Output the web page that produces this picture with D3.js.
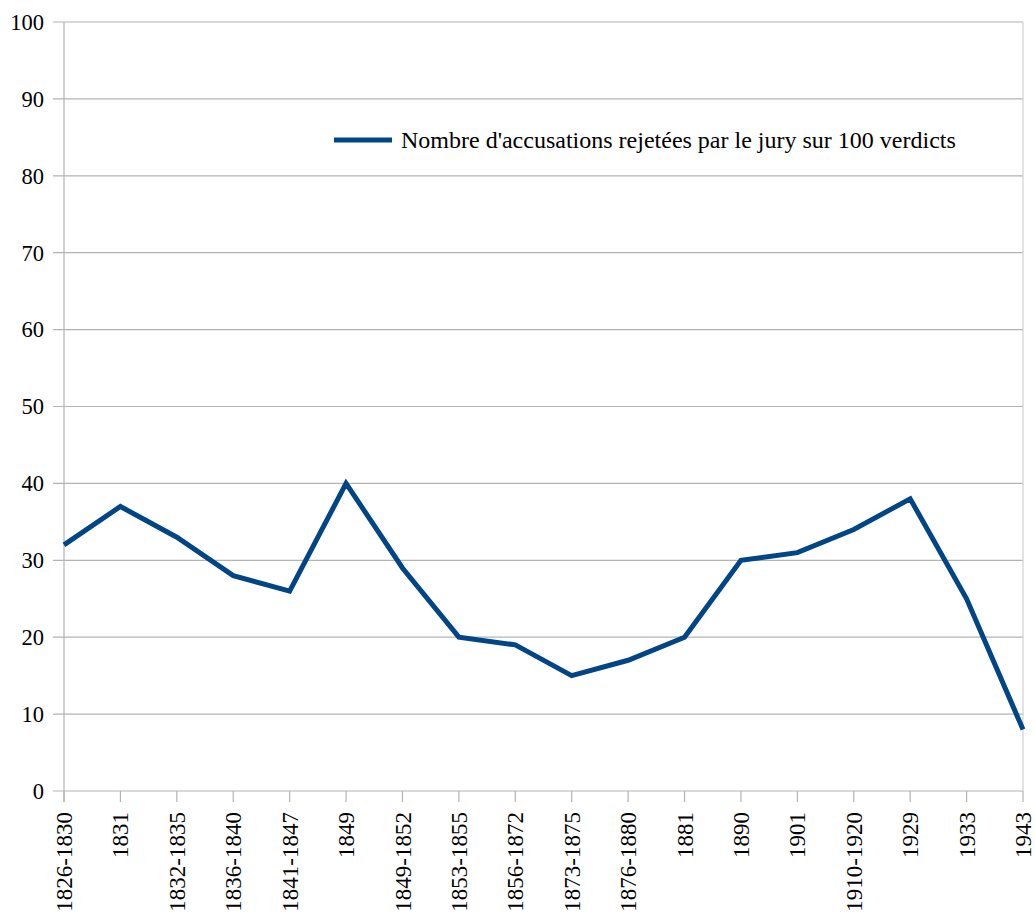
<!DOCTYPE html>
<html><head><meta charset="utf-8">
<script src="https://cdn.jsdelivr.net/npm/d3@7"></script>
<style>body{margin:0;background:#fff}svg{display:block}</style>
</head><body>
<svg id="c" width="1035" height="913"></svg>
<script>
const categories = ["1826-1830","1831","1832-1835","1836-1840","1841-1847","1849","1849-1852","1853-1855","1856-1872","1873-1875","1876-1880","1881","1890","1901","1910-1920","1929","1933","1943"];
const values = [32,37,33,28,26,40,29,20,19,15,17,20,30,31,34,38,25,8];
const yTicks = [0,10,20,30,40,50,60,70,80,90,100];
const seriesName = "Nombre d'accusations rejetées par le jury sur 100 verdicts";

const svg = d3.select("#c");
const L = 64, R = 1023, T = 22, B = 791;
const font = "'Liberation Serif','Times New Roman',serif";

const x = d3.scalePoint().domain(categories).range([L, R]);
const y = d3.scaleLinear().domain([0, 100]).range([B, T]);

// gridlines
svg.append("g").selectAll("line").data(yTicks).join("line")
  .attr("x1", L - 11).attr("x2", R)
  .attr("y1", d => y(d)).attr("y2", d => y(d))
  .attr("stroke", "#b3b3b3").attr("stroke-width", 1.2);

// y-axis line
svg.append("line").attr("x1", L).attr("x2", L).attr("y1", T).attr("y2", B + 11)
  .attr("stroke", "#b3b3b3").attr("stroke-width", 1.2);
// right border
svg.append("line").attr("x1", R).attr("x2", R).attr("y1", T).attr("y2", B)
  .attr("stroke", "#d0d0d0").attr("stroke-width", 1.2);

// x ticks
svg.append("g").selectAll("line").data(categories).join("line")
  .attr("x1", d => x(d)).attr("x2", d => x(d))
  .attr("y1", B).attr("y2", B + 11)
  .attr("stroke", "#b3b3b3").attr("stroke-width", 1.2);

// y labels
svg.append("g").selectAll("text").data(yTicks).join("text")
  .attr("x", 44).attr("y", d => y(d)).attr("dy", "0.35em")
  .attr("text-anchor", "end").attr("font-family", font).attr("font-size", 22.5)
  .attr("fill", "#000").text(d => d);

// x labels
svg.append("g").selectAll("text").data(categories).join("text")
  .attr("transform", d => `translate(${x(d)},812) rotate(-90)`)
  .attr("dy", "0.35em")
  .attr("text-anchor", "end").attr("font-family", font).attr("font-size", 23)
  .attr("fill", "#000").text(d => d);

// line
const line = d3.line().x((d, i) => x(categories[i])).y(d => y(d));
svg.append("path").datum(values).attr("d", line)
  .attr("fill", "none").attr("stroke", "#004586").attr("stroke-width", 5)
  .attr("stroke-linejoin", "miter");

// legend
svg.append("line").attr("x1", 334).attr("x2", 392).attr("y1", 140).attr("y2", 140)
  .attr("stroke", "#004586").attr("stroke-width", 5);
svg.append("text").attr("x", 401).attr("y", 140).attr("dy", "0.35em")
  .attr("font-family", font).attr("font-size", 24).attr("fill", "#000")
  .text(seriesName);
</script>
</body></html>
